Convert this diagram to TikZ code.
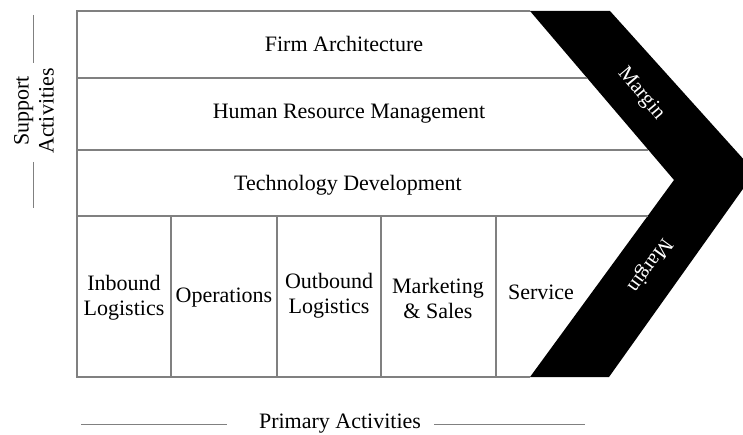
\documentclass[tikz,border=0pt]{standalone}
\usepackage{fontspec}
\setmainfont{Liberation Serif}
\begin{document}
\begin{tikzpicture}[x=1pt,y=-1pt,
  rule/.style={draw=black!50, line width=1.1pt},
  lbl/.style={font=\fontsize{22}{25}\selectfont, align=center, inner sep=0pt},
  mlbl/.style={font=\fontsize{21}{24}\selectfont, text=white, inner sep=0pt}]
\useasboundingbox (0,0) rectangle (743,435);
\clip (0,0) rectangle (743,435);
% chevron (margin band)
\fill[black] (530,11) -- (610,11) -- (755,172) -- (609,377) -- (530,377) -- (674,180) -- cycle;
% frame and rows
\draw[rule] (530,11) -- (77,11) -- (77,377) -- (530,377);
\draw[rule] (77,78) -- (587,78);
\draw[rule] (77,150) -- (648,150);
\draw[rule] (77,216) -- (648,216);
\foreach \cx in {171,277,381,496} \draw[rule] (\cx,216) -- (\cx,377);
% support activities
\node[lbl] (firm) at (344,44) {Firm Architecture};
\node[lbl] (hrm) at (349,114) {Human Resource Management};
\node[lbl] (tech) at (348,185) {Technology Development};
% primary activities
\node[lbl] (inb) at (124,298) {Inbound\\Logistics};
\node[lbl] (ops) at (224,298) {Operations};
\node[lbl] (outb) at (329,296) {Outbound\\Logistics};
\node[lbl] (mkt) at (438,298) {Marketing\\\& Sales};
\node[lbl] (svc) at (541,292) {Service};
% margin labels
\node[mlbl, rotate=-50] (m1) at (641,94) {Margin};
\node[mlbl, rotate=-126] (m2) at (649,265) {Margin};
% axis labels
\node[lbl, rotate=90] (sup) at (34,111) {Support\\Activities};
\draw[rule, line width=0.9pt] (33,15) -- (33,63);
\draw[rule, line width=0.9pt] (33,162) -- (33,208);
\node[lbl] (prim) at (340,424) {Primary Activities};
\draw[rule, line width=0.9pt] (81,424) -- (227,424);
\draw[rule, line width=0.9pt] (434,424) -- (585,424);
\end{tikzpicture}
\end{document}
